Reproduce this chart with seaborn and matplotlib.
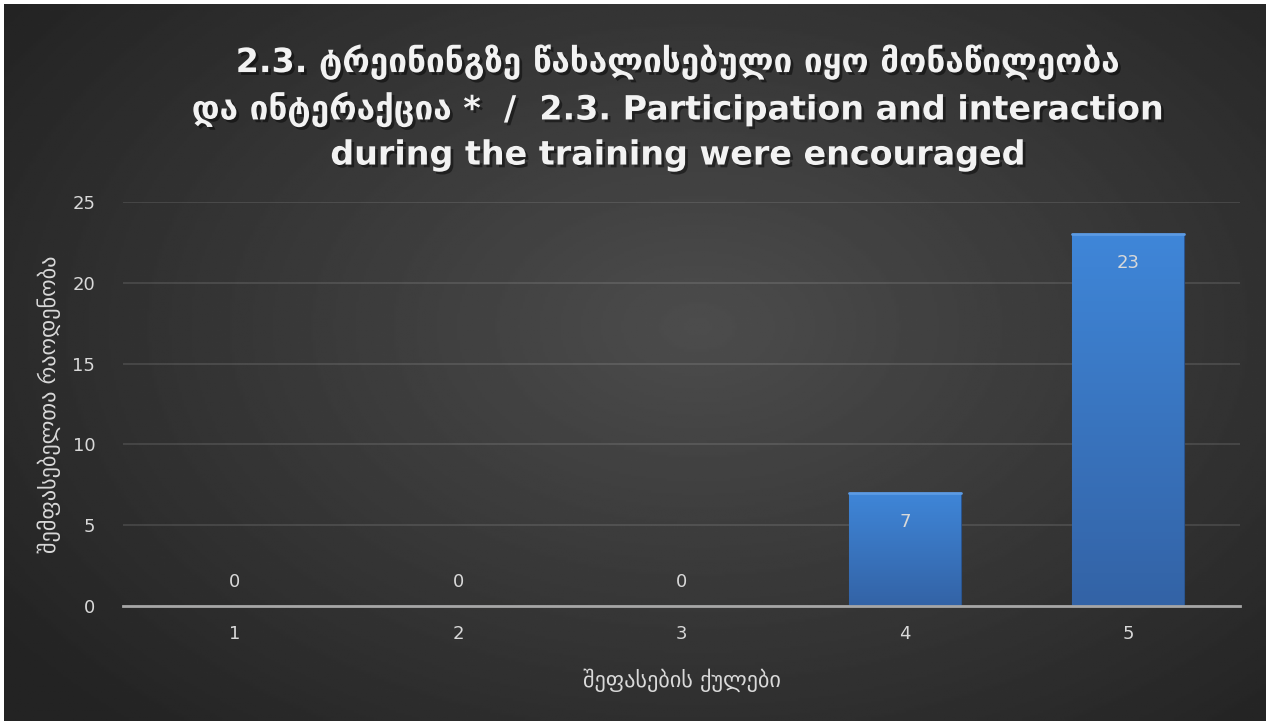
import numpy as np
import pandas as pd
import seaborn as sns
import matplotlib.pyplot as plt
import matplotlib.patheffects as pe
from matplotlib.colors import LinearSegmentedColormap

# Data
scores = ['1', '2', '3', '4', '5']
counts = [0, 0, 0, 7, 23]

title = ('2.3. ტრეინინგზე წახალისებული იყო მონაწილეობა\n'
         'და ინტერაქცია *  /  2.3. Participation and interaction\n'
         'during the training were encouraged')
x_label = 'შეფასების ქულები'
y_label = 'შემფასებელთა რაოდენობა'

df = pd.DataFrame({'score': scores, 'count': counts})

sns.set_theme(style="dark")
plt.rcParams['font.family'] = ['DejaVu Sans']

fig = plt.figure(figsize=(12.7, 7.25), dpi=100)
fig.patch.set_facecolor('white')

# radial gradient background, framed by a thin white border
bg = fig.add_axes([4 / 1270, 4 / 725, 1262 / 1270, 717 / 725])
yy, xx = np.mgrid[0:1:300j, 0:1:500j]
r = np.sqrt(((xx - 0.55) / 0.75) ** 2 + ((yy - 0.45) / 0.85) ** 2)
shade = np.clip(0.30 - 0.18 * r, 0.14, 0.30)
bg.imshow(shade, cmap='gray', vmin=0, vmax=1, aspect='auto', extent=[0, 1, 0, 1])
bg.set_axis_off()

ax = fig.add_axes([123 / 1270, 1 - 606 / 725, 1117 / 1270, 404 / 725])
ax.patch.set_alpha(0)

sns.barplot(data=df, x='score', y='count', order=scores, color='#3a75c4',
            width=0.5, ax=ax, saturation=1, edgecolor='#2a5590', linewidth=0.8)

# vertical gradient on the bars
grad = np.linspace(0, 1, 100).reshape(-1, 1)
bar_cmap = LinearSegmentedColormap.from_list('bar', ['#3363a6', '#3f86d8'])
for p in ax.patches:
    if p.get_height() > 0:
        x0, w, h = p.get_x(), p.get_width(), p.get_height()
        im = ax.imshow(grad, cmap=bar_cmap, aspect='auto', origin='lower',
                       extent=[x0, x0 + w, 0, h], zorder=p.get_zorder() + 0.1)
        im.set_clip_path(p)
        ax.plot([x0, x0 + w], [h, h], color='#5c9be4', lw=2, zorder=3)

ax.set_xlim(-0.5, 4.5)
ax.set_ylim(0, 25)
ax.set_yticks([0, 5, 10, 15, 20, 25])

ax.grid(axis='y', color='white', alpha=0.13, lw=1.2)
ax.grid(axis='x', visible=False)
for s in ['top', 'right', 'left']:
    ax.spines[s].set_visible(False)
ax.spines['bottom'].set_color('#a6a6a6')
ax.spines['bottom'].set_linewidth(2)
ax.set_axisbelow(True)

ax.tick_params(axis='both', colors='#d9d9d9', labelsize=13, length=0)
ax.tick_params(axis='x', pad=14)
ax.tick_params(axis='y', pad=20)

# value labels
for i, v in enumerate(counts):
    if v > 0:
        ax.annotate(str(v), xy=(i, v), xytext=(0, -21), textcoords='offset points',
                    ha='center', va='center', color='#d9d9d9', fontsize=13)
    else:
        ax.annotate(str(v), xy=(i, v), xytext=(0, 17), textcoords='offset points',
                    ha='center', va='center', color='#d9d9d9', fontsize=13)

ax.set_xlabel(x_label, color='#d9d9d9', fontsize=16, labelpad=18)
ax.set_ylabel(y_label, color='#d9d9d9', fontsize=16, labelpad=8)

fig.text(678 / 1270, 1 - 108 / 725, title, ha='center', va='center', color='#f2f2f2',
         fontsize=24, fontweight='bold', linespacing=1.44,
         path_effects=[pe.withSimplePatchShadow(offset=(2, -2), shadow_rgbFace='black', alpha=0.45)])

fig.savefig('out.png', dpi=100)
